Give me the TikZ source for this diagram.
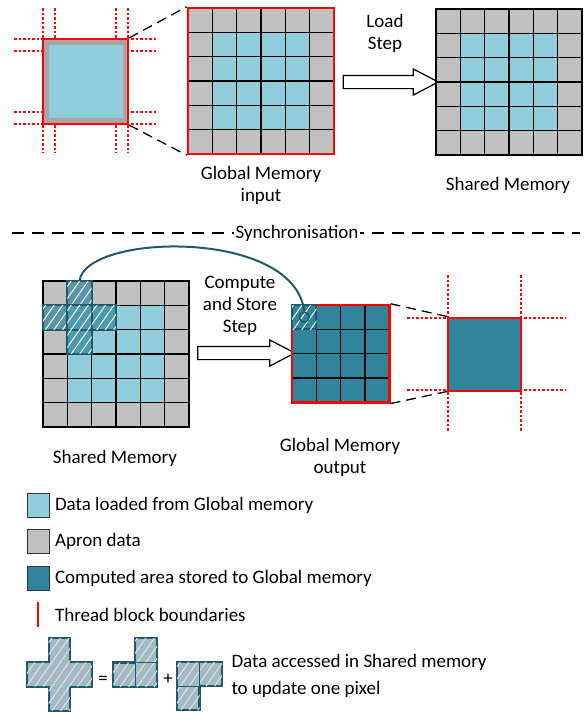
\documentclass[tikz,border=0pt]{standalone}
\usepackage{fontspec}
\setmainfont{Carlito}
\usetikzlibrary{positioning,shapes.arrows,patterns.meta}

\definecolor{loaded}{HTML}{92CDDC}
\definecolor{apron}{HTML}{C0C0C0}
\definecolor{apronedge}{HTML}{A6A6A6}
\definecolor{computed}{HTML}{31849B}
\definecolor{access}{HTML}{215968}
\definecolor{accesslight}{HTML}{A3BAC2}

\newcommand{\cs}{24.33} % one cell, in px

% 6x6 memory tile, top left corner at (#1,#2)
\newcommand{\memtile}[2]{%
  \fill[apron] (#1,#2) rectangle ++(6*\cs,6*\cs);
  \fill[loaded] (#1+\cs,#2+\cs) rectangle ++(4*\cs,4*\cs);
  \foreach \k in {1,...,5} {
    \draw[cellline] (#1+\k*\cs,#2) -- ++(0,6*\cs);
    \draw[cellline] (#1,#2+\k*\cs) -- ++(6*\cs,0);
  }}

\begin{document}
\begin{tikzpicture}[x=1pt,y=-1pt,
  every node/.style={font=\fontsize{19}{22}\selectfont},
  cellline/.style={black, line width=1.4},
  tbline/.style={red, line width=1.4, dash pattern=on 2.5pt off 2pt},
  zoomline/.style={line width=1.3, dash pattern=on 10pt off 6pt},
  syncline/.style={line width=1.4, dash pattern=on 12pt off 8pt},
  blockarrow/.style={single arrow, draw, fill=white, line width=1.2, inner xsep=0, inner ysep=6,
    minimum width=25, single arrow head extend=6.5, single arrow tip angle=55},
  hatched/.style={draw=access, line width=2, fill=computed, fill opacity=0.7,
    postaction={draw=none, fill opacity=0.35, pattern color=white,
      pattern={Lines[angle=55,distance=7pt,line width=0.9pt]}}},
  lghatch/.style={draw=access, line width=2.2, fill=accesslight,
    postaction={draw=none, pattern color=white!70!accesslight,
      pattern={Lines[angle=55,distance=7pt,line width=0.9pt]}}},
  legbox/.style={draw=black!80, line width=1, minimum width=22, minimum height=24, inner sep=0}]
\useasboundingbox (0,0) rectangle (588,712);

% thread block and its neighbours
\foreach \p in {43,55,116,128} {
  \draw[tbline] (\p,8) -- (\p,153);
  \draw[tbline] (14,\p-4) -- (158,\p-4);
}
\node[minimum size=85, inner sep=0, fill=apronedge, draw=red, line width=2] (blk) at (85.5,81.5) {};
\fill[loaded] ([shift={(7,7)}]blk.north west) rectangle ([shift={(-6,-7)}]blk.south east);

% global memory input
\memtile{188}{8}
\node[minimum size=6*\cs, inner sep=0, draw=red, line width=2.5] (gin) at (188+3*\cs,8+3*\cs) {};
\node[align=center] (gintxt) at (261,185) {Global Memory\\input};
\draw[zoomline] (blk.north east) -- (gin.north west);
\draw[zoomline] (blk.south east) -- (gin.south west);

% load step
\node[blockarrow, minimum height=95] (load) at (384.5,82) {};
\node[align=center] (loadtxt) at (385,33) {Load\\Step};

% shared memory
\memtile{436}{9}
\node[minimum size=6*\cs, inner sep=0, draw, line width=2.8] (smem) at (436+3*\cs,9+3*\cs) {};
\node (smemtxt) at (508,185) {Shared Memory};

% synchronisation
\draw[syncline] (12,233) -- (580,233);
\node[fill=white, inner sep=2] (sync) at (297,233) {Synchronisation};

% shared memory with stencil
\memtile{43}{281}
\node[minimum size=6*\cs, inner sep=0, draw, line width=2.8] (smin) at (43+3*\cs,281+3*\cs) {};
\foreach \c/\r in {1/0,0/1,1/1,2/1,1/2}
  \draw[hatched] (43+\c*\cs,281+\r*\cs) rectangle ++(\cs,\cs);
\coordinate (crosstop) at (43+1.5*\cs,281);
\node (smintxt) at (115,458) {Shared Memory};

% compute and store step
\node[blockarrow, minimum height=97] (cmp) at (240,353) {};
\node[align=center] (cmptxt) at (240,306) {Compute\\and Store\\Step};

% global memory output
\fill[computed] (292,305) rectangle ++(4*\cs,4*\cs);
\foreach \k in {1,2,3} {
  \draw[cellline] (292+\k*\cs,305) -- ++(0,4*\cs);
  \draw[cellline] (292,305+\k*\cs) -- ++(4*\cs,0);
}
\node[minimum size=4*\cs, inner sep=0, draw=red, line width=2.5] (gout) at (292+2*\cs,305+2*\cs) {};
\draw[hatched] (292,305) rectangle ++(\cs,\cs);
\node[circle, draw=access, line width=1.5, minimum size=10, inner sep=0] (px) at (292+\cs/2,305+\cs/2) {};
\draw[access, line width=2] (crosstop) .. controls (85,233) and (295,228) .. (px.north);
\node[align=center] (gouttxt) at (340,457) {Global Memory\\output};

% one output block
\foreach \p in {318,390} \draw[tbline] (407,\p) -- (565,\p);
\foreach \p in {448,521} \draw[tbline] (\p,275) -- (\p,432);
\node[minimum size=73, inner sep=0, fill=computed, draw=red, line width=2] (pix) at (484.5,354) {};
\draw[zoomline] (gout.north east) -- (pix.north west);
\draw[zoomline] (gout.south east) -- (pix.south west);

% legend
\node[legbox, fill=loaded] (lg1) at (38,505) {};
\node[right=2pt of lg1] (lt1) {Data loaded from Global memory};
\node[legbox, fill=apron] (lg2) at (38,541.5) {};
\node[right=2pt of lg2] (lt2) {Apron data};
\node[legbox, fill=computed] (lg3) at (38,578) {};
\node[right=2pt of lg3] (lt3) {Computed area stored to Global memory};
\node[fill=red, minimum width=2.5, minimum height=25, inner sep=0] (lg4) at (38,614.5) {};
\node[anchor=west] (lt4) at (lg4 -| lt3.west) {Thread block boundaries};

\begin{scope}[shift={(27,638)}, x=21.67pt, y=-24.33pt]
  \draw[lghatch] (1,0) -- (2,0) -- (2,1) -- (3,1) -- (3,2) -- (2,2) -- (2,3)
    -- (1,3) -- (1,2) -- (0,2) -- (0,1) -- (1,1) -- cycle;
\end{scope}
\node (eq) at (103,680) {=};
\begin{scope}[shift={(113,638)}, x=22pt, y=-24.5pt]
  \draw[lghatch] (1,0) -- (2,0) -- (2,2) -- (0,2) -- (0,1) -- (1,1) -- cycle;
  \draw[access, line width=1] (1,1) -- (2,1) (1,1) -- (1,2);
\end{scope}
\node (pl) at (168,679) {+};
\begin{scope}[shift={(177,662)}, x=22.5pt, y=-24pt]
  \draw[lghatch] (0,0) -- (2,0) -- (2,1) -- (1,1) -- (1,2) -- (0,2) -- cycle;
  \draw[access, line width=1] (1,0) -- (1,1) (0,1) -- (1,1);
\end{scope}
\node[anchor=west, align=left] (lt5) at (228,676) {Data accessed in Shared memory\\[5pt]to update one pixel};
\end{tikzpicture}
\end{document}
